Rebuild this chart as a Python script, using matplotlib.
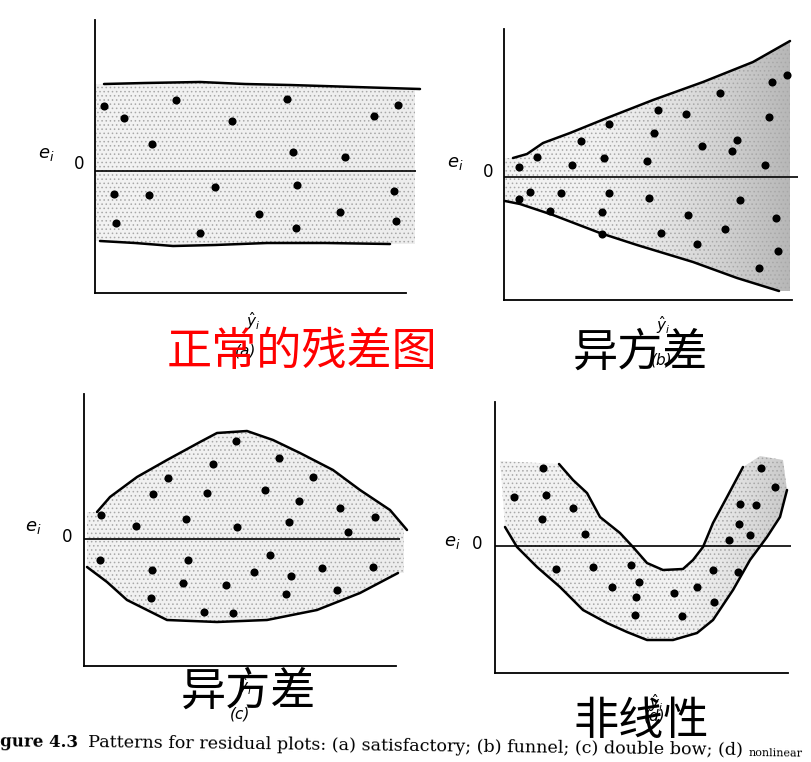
import numpy as np
import matplotlib.pyplot as plt
from matplotlib.patches import Polygon

plt.rcParams['font.family'] = ['DejaVu Sans']
plt.rcParams['hatch.linewidth'] = 0.6

# (a) satisfactory: residuals (e) vs fitted values (yhat)
a_yhat = [0.9, 2.9, 8.1, 5.7, 13.7, 19.2, 19.8, 25.0, 27.9, 30.3,
          1.9, 5.4, 12.0, 2.1, 10.5, 16.4, 20.2, 20.1, 24.5, 29.9, 30.1]
a_e = [6.5, 5.3, 7.1, 2.7, 5.0, 7.2, 1.9, 1.4, 5.5, 6.6,
       -2.3, -2.4, -1.6, -5.2, -6.2, -4.3, -1.4, -5.7, -4.1, -2.0, -5.0]
a_upper_x = [0.9, 5.0, 10.5, 15.0, 19.5, 26.0, 32.5]
a_upper_y = [8.7, 8.8, 8.9, 8.7, 8.6, 8.4, 8.2]
a_lower_x = [0.5, 4.0, 7.8, 12.0, 17.2, 23.0, 29.5]
a_lower_y = [-7.0, -7.2, -7.5, -7.4, -7.2, -7.2, -7.3]

# (b) funnel
b_yhat = [1.5, 3.3, 6.8, 7.7, 10.0, 10.5, 14.3, 15.0, 15.4, 18.2, 19.8, 21.6,
          22.8, 23.3, 26.1, 26.5, 26.8, 28.3,
          1.5, 2.6, 5.7, 4.6, 9.8, 10.5, 9.8, 14.5, 15.7, 18.4, 19.3, 22.1,
          23.6, 27.2, 27.4, 25.5]
b_e = [1.0, 2.0, 1.2, 3.6, 1.9, 5.3, 1.6, 4.4, 6.7, 6.3, 3.1, 8.4,
       2.6, 3.7, 1.2, 6.0, 9.5, 10.2,
       -2.2, -1.5, -1.6, -3.4, -3.5, -1.6, -5.7, -2.1, -5.6, -3.8, -6.7, -5.2,
       -2.3, -4.1, -7.4, -9.1]
b_upper_x = [0.9, 2.3, 3.9, 6.6, 10.3, 14.9, 19.9, 24.9, 28.6]
b_upper_y = [1.9, 2.3, 3.4, 4.4, 5.9, 7.7, 9.5, 11.5, 13.6]
b_lower_x = [0.1, 1.6, 4.9, 9.6, 13.3, 18.9, 23.3, 27.5]
b_lower_y = [-2.4, -2.7, -3.8, -5.6, -6.8, -8.5, -10.1, -11.4]

# (c) double bow
c_yhat = [1.7, 5.2, 6.9, 8.4, 10.2, 12.3, 12.9, 15.2, 15.3, 18.1, 19.5, 20.5,
          21.5, 22.9, 25.6, 26.4, 29.1,
          1.6, 6.8, 10.4, 9.9, 6.7, 12.0, 14.2, 14.9, 17.0, 18.6, 20.7, 20.2,
          23.8, 25.3, 28.9]
c_e = [2.4, 1.3, 4.5, 6.1, 2.0, 4.6, 7.5, 9.8, 1.2, 4.9, 8.1, 1.7,
       3.8, 6.2, 3.1, 0.7, 2.2,
       -2.1, -3.1, -2.1, -4.4, -5.9, -7.3, -4.6, -7.4, -3.3, -1.6, -3.7, -5.5,
       -2.9, -5.1, -2.8]
c_upper_x = [1.3, 2.6, 5.3, 8.3, 11.6, 13.3, 16.3, 18.9, 21.6, 24.9, 27.6, 30.6, 32.3]
c_upper_y = [2.7, 4.2, 6.2, 7.9, 9.7, 10.6, 10.8, 9.9, 8.6, 6.9, 4.9, 2.9, 0.9]
c_lower_x = [0.3, 2.3, 4.3, 8.3, 13.3, 18.3, 23.3, 27.6, 31.4]
c_lower_y = [-2.8, -4.3, -6.1, -8.1, -8.3, -8.1, -7.1, -5.4, -3.4]

# (d) nonlinear
d_yhat = [4.8, 1.9, 5.1, 7.8, 4.7, 9.0, 6.1, 9.8, 13.6, 11.7, 14.4, 14.1, 14.0,
          17.9, 18.7, 20.2, 21.8, 21.9, 24.3, 23.4, 24.5, 24.4, 25.5, 26.1,
          26.6, 28.0]
d_e = [7.8, 4.9, 5.1, 3.8, 2.7, 1.2, -2.3, -2.1, -1.9, -4.1, -3.6, -5.1, -6.9,
       -4.7, -7.0, -4.1, -2.4, -5.6, -2.6, 0.6, 4.2, 2.2, 1.1, 4.1, 7.8, 5.9]
d_outer_x = [1.0, 2.2, 4.2, 6.5, 8.8, 11.2, 13.2, 15.2, 17.8, 20.2, 21.8, 23.8,
             25.5, 27.2, 28.5, 29.2]
d_outer_y = [1.9, -0.1, -2.1, -4.1, -6.4, -7.7, -8.6, -9.4, -9.4, -8.7, -7.4,
             -4.4, -1.4, 0.9, 2.9, 5.6]
d_inner_x = [6.4, 7.8, 9.2, 10.5, 12.5, 13.8, 15.2, 16.8, 18.8, 19.8, 20.8,
             21.8, 23.2, 24.8]
d_inner_y = [8.2, 6.6, 5.3, 2.9, 1.3, -0.1, -1.7, -2.4, -2.3, -1.4, -0.1,
             2.3, 4.9, 7.9]
d_top_right_x = [28.8, 26.5]
d_top_right_y = [8.6, 9.0]
d_top_left_x = [0.5]
d_top_left_y = [8.5]

panel_letters = ['(a)', '(b)', '(c)', '(d)']
cn_titles = ['正常的残差图', '异方差', '异方差', '非线性']
caption = 'Patterns for residual plots: (a) satisfactory; (b) funnel; (c) double bow; (d)'

W, H = 811, 762
fig = plt.figure(figsize=(W / 100, H / 100), dpi=100)
fig.patch.set_facecolor('white')


def make_axes(l, t, r, b, ylo, yhi, axis_end):
    ax = fig.add_axes([l / W, 1 - b / H, (r - l) / W, (b - t) / H])
    ax.set_xlim(0, (r - l) / 10)
    ax.set_ylim(ylo, yhi)
    ax.patch.set_alpha(0)
    ax.spines['top'].set_visible(False)
    ax.spines['right'].set_visible(False)
    ax.spines['left'].set_linewidth(1.3)
    ax.spines['bottom'].set_linewidth(1.3)
    ax.spines['bottom'].set_bounds(0, axis_end)
    ax.set_xticks([])
    ax.set_yticks([])
    return ax


def shade(ax, px, py, light, dark, start):
    x0, x1 = ax.get_xlim()
    y0, y1 = ax.get_ylim()
    poly = Polygon(np.column_stack([px, py]), closed=True,
                   facecolor='none', edgecolor='none')
    ax.add_patch(poly)
    t = np.clip((np.linspace(x0, x1, 400) - start) / (x1 - start), 0, 1)
    g = light - (light - dark) * t ** 1.5
    img = np.repeat(g[None, :, None], 3, axis=2)
    im = ax.imshow(img, extent=[x0, x1, y0, y1], aspect='auto',
                   origin='lower', zorder=0, interpolation='bilinear')
    im.set_clip_path(poly)
    ax.add_patch(Polygon(np.column_stack([px, py]), closed=True,
                         facecolor='none', edgecolor='#a8a8a8',
                         hatch='....', lw=0, zorder=0.5))
    ax.set_xlim(x0, x1)
    ax.set_ylim(y0, y1)


def band(ux, uy, lx, ly, x_left, x_right):
    px = [x_left] + list(ux) + [x_right, x_right] + list(lx[::-1]) + [x_left]
    py = [uy[0]] + list(uy) + [uy[-1], ly[-1]] + list(ly[::-1]) + [ly[0]]
    return px, py


def finish(ax, xs, ys, zero_end, zero_lbl, e_lbl):
    ax.hlines(0, 0, zero_end, color='black', lw=1.2, zorder=2)
    ax.scatter(xs, ys, s=34, color='black', zorder=4, linewidths=0)
    ax.text(zero_lbl[0], zero_lbl[1], '0', fontsize=12, ha='center',
            va='center', clip_on=False)
    ax.text(e_lbl[0], e_lbl[1], r'$e_i$', fontsize=13, ha='center',
            va='center', clip_on=False)


line_kw = dict(color='black', lw=1.8, solid_capstyle='round', zorder=3, clip_on=False)

# panel (a)
ax = make_axes(95, 20, 420, 293, -12.2, 15.1, 31.1)
px, py = band(a_upper_x, a_upper_y, a_lower_x, a_lower_y, 0.1, 32.0)
shade(ax, px, py, 0.95, 0.93, 0)
ax.plot(a_upper_x, a_upper_y, **line_kw)
ax.plot(a_lower_x, a_lower_y, **line_kw)
finish(ax, a_yhat, a_e, 32.1, (-1.6, 0.7), (-4.9, 1.7))

# panel (b)
ax = make_axes(504, 29, 800, 300, -12.3, 14.8, 28.8)
px, py = band(b_upper_x, b_upper_y, b_lower_x, b_lower_y, 0.1, 28.6)
shade(ax, px, py, 0.95, 0.70, 8)
ax.plot(b_upper_x, b_upper_y, **line_kw)
ax.plot(b_lower_x, b_lower_y, **line_kw)
finish(ax, b_yhat, b_e, 29.4, (-1.6, 0.5), (-4.9, 1.4))

# panel (c)
ax = make_axes(84, 394, 410, 666, -12.7, 14.5, 31.2)
px, py = band(c_upper_x, c_upper_y, c_lower_x, c_lower_y, 0.3, 32.0)
shade(ax, px, py, 0.95, 0.93, 0)
ax.plot(c_upper_x, c_upper_y, **line_kw)
ax.plot(c_lower_x, c_lower_y, **line_kw)
finish(ax, c_yhat, c_e, 31.6, (-1.7, 0.2), (-5.1, 1.2))

# panel (d)
ax = make_axes(495, 402, 800, 673, -12.7, 14.4, 29.3)
px = d_top_left_x + d_outer_x + d_top_right_x + d_inner_x[::-1]
py = d_top_left_y + d_outer_y + d_top_right_y + d_inner_y[::-1]
shade(ax, px, py, 0.95, 0.76, 18)
ax.plot(d_outer_x, d_outer_y, **line_kw)
ax.plot(d_inner_x, d_inner_y, **line_kw)
finish(ax, d_yhat, d_e, 29.6, (-1.8, 0.2), (-4.3, 0.4))

# x-axis labels and panel letters (partly hidden under the Chinese captions)
for x, y in [(253, 321), (663, 325), (245, 686), (656, 703)]:
    fig.text(x / W, 1 - y / H, r'$\hat{y}_i$', fontsize=11, ha='center', va='center')
for (x, y), s in zip([(246, 351), (662, 360), (240, 714), (655, 716)], panel_letters):
    fig.text(x / W, 1 - y / H, s, fontsize=11, fontstyle='italic',
             ha='center', va='center')

cjk = ['Noto Sans CJK SC', 'DejaVu Sans']
for (x, y), s, c in zip([(302, 352), (640, 353), (248, 692), (641, 721)],
                        cn_titles, ['#ff0000', 'black', 'black', 'black']):
    fig.text(x / W, 1 - y / H, s, fontsize=32.5, color=c, family=cjk,
             fontweight='light', ha='center', va='center')

# figure caption (cut at the page edges as in the scan)
serif = ['DejaVu Serif']
fig.text(-18 / W, 1 - 746 / H, 'Figure 4.3', fontsize=12, family=serif,
         fontweight='bold', va='baseline', rotation=-0.7, rotation_mode='anchor')
fig.text(88 / W, 1 - 747.5 / H, caption, fontsize=12.6, family=serif,
         va='baseline', rotation=-0.7, rotation_mode='anchor')
fig.text(749 / W, 1 - 756 / H, 'nonlinear', fontsize=8, family=serif,
         va='baseline', rotation=-0.7, rotation_mode='anchor')

fig.savefig('out.png', dpi=100)
